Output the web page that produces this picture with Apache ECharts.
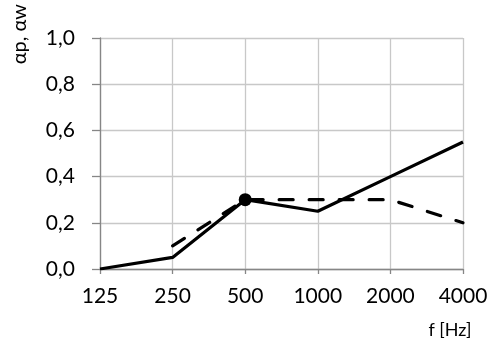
<!DOCTYPE html>
<html>
<head>
<meta charset="utf-8">
<script src="https://cdn.jsdelivr.net/npm/echarts@6/dist/echarts.min.js"></script>
<style>html,body{margin:0;padding:0;background:#fff}#c{width:492px;height:344px}</style>
</head>
<body>
<div id="c"></div>
<script>
var categories = ['125', '250', '500', '1000', '2000', '4000'];
var alphaP = [0, 0.05, 0.3, 0.25, 0.4, 0.55];
var alphaW = ['-', 0.1, 0.3, 0.3, 0.3, 0.2];
var markerValues = ['-', '-', 0.3, '-', '-', '-'];

var FONT = 'Lato';
var chart = echarts.init(document.getElementById('c'), null, {renderer: 'canvas'});
chart.setOption({
  animation: false,
  backgroundColor: '#fff',
  grid: {left: 100, right: 29, top: 38, bottom: 75},
  xAxis: {
    type: 'category',
    data: categories,
    boundaryGap: false,
    axisLine: {lineStyle: {color: '#868686', width: 1.3}},
    axisTick: {show: true, alignWithLabel: true, length: 5, lineStyle: {color: '#868686', width: 1.3}},
    axisLabel: {fontFamily: FONT, fontSize: 21, color: '#000', margin: 17},
    splitLine: {show: true, lineStyle: {color: '#c8c8c8', width: 1.3}}
  },
  yAxis: {
    type: 'value',
    min: 0, max: 1, interval: 0.2,
    axisLine: {show: true, lineStyle: {color: '#868686', width: 1.3}},
    axisTick: {show: true, length: 8, lineStyle: {color: '#868686', width: 1.3}},
    axisLabel: {fontFamily: FONT, fontSize: 21, color: '#000', margin: 25,
      formatter: function (v) { return v.toFixed(1).replace('.', ','); }},
    splitLine: {show: true, lineStyle: {color: '#c8c8c8', width: 1.3}}
  },
  graphic: [{
    type: 'text',
    x: 20, y: 4,
    rotation: Math.PI / 2,
    style: {text: 'αp, αw', fontFamily: FONT, fontSize: 20, fill: '#000', textAlign: 'right', textVerticalAlign: 'middle'}
  }, {
    type: 'text',
    x: 450, y: 330,
    style: {text: 'f [Hz]', fontFamily: FONT, fontSize: 18, fill: '#000', textAlign: 'center', textVerticalAlign: 'middle'}
  }],
  series: [
    {type: 'line', data: alphaP, symbol: 'none', z: 3,
      lineStyle: {color: '#000', width: 3.2}},
    {type: 'line', data: alphaW, symbol: 'none', z: 2,
      lineStyle: {color: '#000', width: 3.2, type: [14, 16], cap: 'round'}},
    {type: 'scatter', data: markerValues, symbol: 'circle', symbolSize: 13, z: 4,
      itemStyle: {color: '#000', opacity: 1}}
  ]
});
</script>
</body>
</html>
